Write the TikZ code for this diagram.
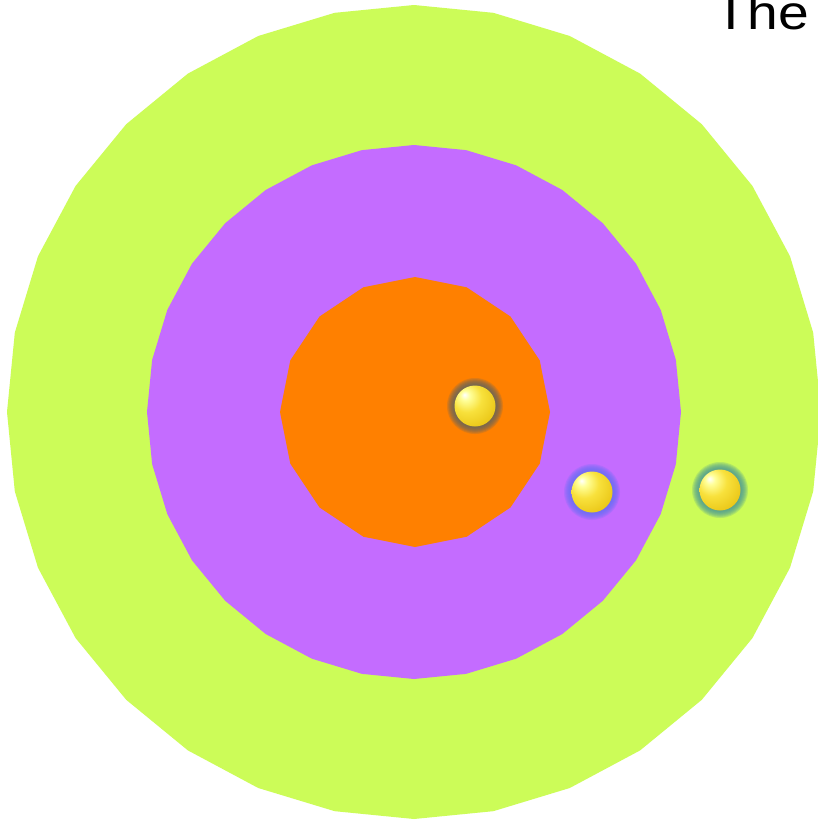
\documentclass[tikz,border=0pt]{standalone}
\usepackage{fontspec}
\setmainfont{Liberation Sans}
\definecolor{mylime}{RGB}{204,252,88}
\definecolor{mypurple}{RGB}{196,108,255}
\definecolor{myorange}{RGB}{255,128,0}
\definecolor{glowA}{RGB}{95,100,95}
\definecolor{glowB}{RGB}{100,110,245}
\definecolor{glowC}{RGB}{70,150,150}
\pgfdeclareradialshading{goldsphere}{\pgfpoint{-13bp}{14bp}}{%
  color(0bp)=(white);
  color(6bp)=(white!60!yellow);
  color(18bp)=(rgb,255:red,248;green,225;blue,60);
  color(34bp)=(rgb,255:red,235;green,200;blue,25);
  color(50bp)=(rgb,255:red,190;green,150;blue,10);
  color(62bp)=(rgb,255:red,105;green,80;blue,10);
  color(72bp)=(rgb,255:red,80;green,65;blue,15)}
\tikzset{
  goldball/.style={circle, minimum size=41pt, inner sep=0pt, shading=goldsphere},
}
\newcommand{\myglow}[2]{%
  \foreach \r in {28,27,26,25,24,23,22,21}{\fill[#2, opacity=0.2] (#1) circle (\r pt);}%
}
\begin{document}
\begin{tikzpicture}[x=1pt,y=-1pt]
\useasboundingbox (0,0) rectangle (818,822);
\clip (0,0) rectangle (818,822);
\fill[white] (0,0) rectangle (818,822);
% rings
\fill[mylime] plot[samples=33,domain=0:360,variable=\a] ({414+407*cos(\a)},{412+407*sin(\a)}) -- cycle;
\fill[mypurple] plot[samples=33,domain=0:360,variable=\a] ({414+267*cos(\a)},{412+267*sin(\a)}) -- cycle;
\fill[myorange] plot[samples=17,domain=0:360,variable=\a] ({415+135*cos(\a)},{412+135*sin(\a)}) -- cycle;
% ball positions
\coordinate (p1) at (475,406);
\coordinate (p2) at (592,492);
\coordinate (p3) at (720,490);
\myglow{p1}{glowA}
\myglow{p2}{glowB}
\myglow{p3}{glowC}
\node[goldball] (b1) at (p1) {};
\node[goldball] (b2) at (p2) {};
\node[goldball] (b3) at (p3) {};
% title
\node[anchor=base west, inner sep=0pt, font=\fontsize{48}{48}\selectfont, xscale=1.15] (title) at (714,29) {The};
\end{tikzpicture}
\end{document}
